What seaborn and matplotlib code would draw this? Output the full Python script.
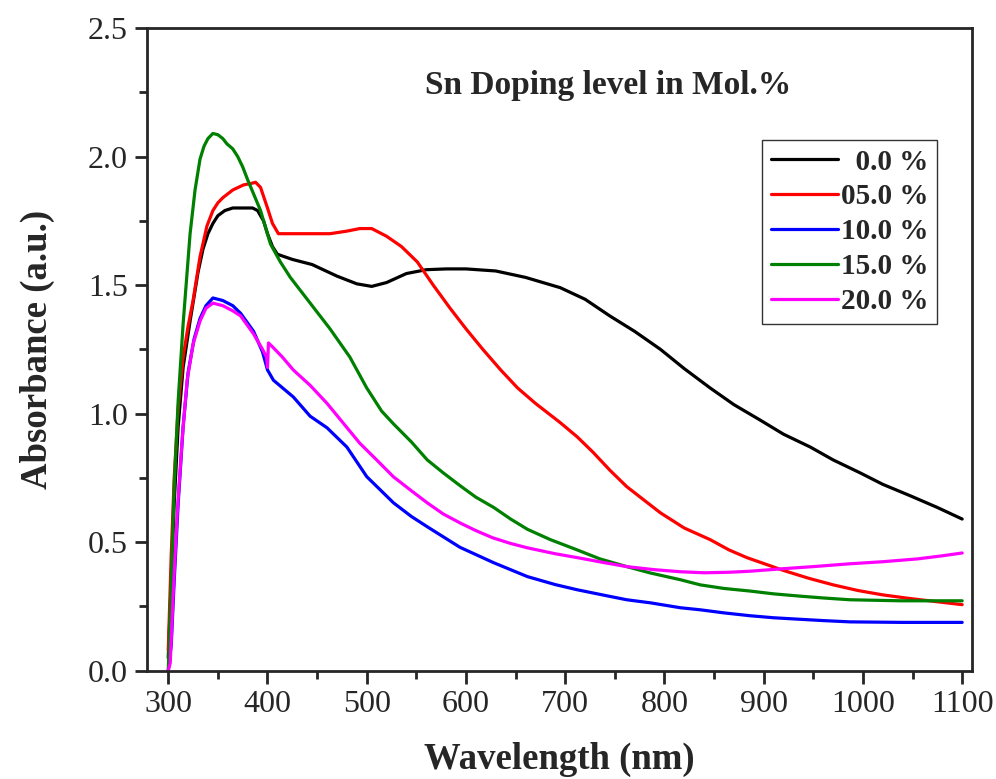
import numpy as np
import pandas as pd
import matplotlib
matplotlib.use("Agg")
import matplotlib.pyplot as plt
from matplotlib.ticker import MultipleLocator, FormatStrFormatter
import seaborn as sns

# --- Datos ---
wl_00 = [300, 303, 306, 310, 315, 322, 330, 335, 340, 345, 350, 357, 365, 375, 385, 390,
         396, 400, 405, 410, 425, 445, 470, 490, 505, 520, 540, 560, 580, 600, 630, 660,
         695, 720, 745, 770, 796, 820, 846, 870, 896, 920, 947, 970, 997, 1020, 1048, 1075,
         1100]
ab_00 = [0.05, 0.35, 0.65, 0.95, 1.18, 1.36, 1.55, 1.64, 1.70, 1.74, 1.77, 1.79, 1.80, 1.80,
         1.80, 1.79, 1.75, 1.70, 1.65, 1.62, 1.60, 1.58, 1.535, 1.505, 1.495, 1.51, 1.545,
         1.56, 1.563, 1.563, 1.555, 1.53, 1.49, 1.445, 1.38, 1.32, 1.25, 1.175, 1.10, 1.035,
         0.976, 0.92, 0.87, 0.82, 0.77, 0.725, 0.68, 0.635, 0.59]

wl_05 = [300, 303, 306, 310, 315, 320, 325, 332, 339, 345, 350, 355, 365, 376, 383, 388,
         393, 400, 405, 411, 433, 463, 480, 493, 505, 520, 535, 551, 567, 584, 600, 617,
         635, 652, 670, 695, 712, 728, 745, 762, 796, 820, 846, 865, 883, 920, 945, 970,
         995, 1020, 1045, 1071, 1100]
ab_05 = [0.08, 0.45, 0.75, 1.02, 1.22, 1.34, 1.44, 1.61, 1.73, 1.79, 1.82, 1.84, 1.87, 1.89,
         1.895, 1.90, 1.88, 1.80, 1.74, 1.70, 1.70, 1.70, 1.71, 1.72, 1.72, 1.69, 1.65, 1.59,
         1.50, 1.41, 1.33, 1.25, 1.17, 1.10, 1.04, 0.965, 0.91, 0.85, 0.78, 0.716, 0.614,
         0.555, 0.51, 0.47, 0.44, 0.39, 0.36, 0.334, 0.312, 0.295, 0.282, 0.27, 0.257]

wl_10 = [300, 303, 306, 310, 315, 320, 326, 332, 338, 345, 355, 365, 373, 386, 395, 400,
         406, 426, 443, 460, 480, 500, 527, 545, 561, 594, 628, 662, 690, 712, 740, 762,
         786, 816, 836, 860, 886, 910, 937, 960, 987, 1040, 1100]
ab_10 = [0.0, 0.1, 0.35, 0.65, 0.95, 1.16, 1.29, 1.37, 1.42, 1.45, 1.44, 1.42, 1.39, 1.32,
         1.24, 1.17, 1.13, 1.065, 0.99, 0.945, 0.87, 0.755, 0.653, 0.60, 0.56, 0.48, 0.42,
         0.366, 0.335, 0.315, 0.293, 0.276, 0.264, 0.245, 0.237, 0.225, 0.214, 0.206, 0.20,
         0.195, 0.19, 0.188, 0.188]

wl_15 = [300, 303, 306, 310, 315, 322, 327, 332, 336, 340, 345, 350, 355, 359, 365, 370,
         375, 380, 393, 403, 413, 423, 443, 463, 483, 500, 515, 527, 545, 561, 577, 594,
         610, 628, 645, 662, 685, 712, 735, 762, 786, 816, 836, 860, 886, 910, 937, 960,
         987, 1038, 1100]
ab_15 = [0.0, 0.35, 0.72, 1.05, 1.35, 1.70, 1.87, 1.99, 2.04, 2.07, 2.09, 2.085, 2.07, 2.05,
         2.03, 2.00, 1.96, 1.91, 1.79, 1.66, 1.59, 1.53, 1.43, 1.33, 1.22, 1.10, 1.01, 0.96,
         0.89, 0.82, 0.77, 0.72, 0.675, 0.635, 0.59, 0.55, 0.51, 0.47, 0.435, 0.405, 0.38,
         0.354, 0.334, 0.32, 0.31, 0.299, 0.29, 0.283, 0.276, 0.272, 0.272]

wl_20 = [300, 302, 305, 309, 314, 319, 325, 332, 338, 345, 355, 365, 373, 386, 395, 399,
         400, 401, 405, 415, 426, 443, 460, 477, 493, 510, 527, 545, 561, 577, 594, 610,
         627, 645, 662, 690, 712, 740, 762, 790, 816, 840, 865, 886, 920, 950, 987, 1020,
         1055, 1080, 1100]
ab_20 = [0.0, 0.03, 0.3, 0.61, 0.90, 1.13, 1.27, 1.36, 1.41, 1.43, 1.42, 1.40, 1.38, 1.31,
         1.25, 1.22, 1.18, 1.275, 1.26, 1.22, 1.17, 1.11, 1.04, 0.96, 0.885, 0.82, 0.754,
         0.70, 0.653, 0.61, 0.575, 0.545, 0.517, 0.495, 0.478, 0.455, 0.44, 0.42, 0.405,
         0.393, 0.385, 0.381, 0.383, 0.387, 0.397, 0.405, 0.416, 0.424, 0.435, 0.447, 0.458]

series = ["0.0", "05.0", "10.0", "15.0", "20.0"]
leyenda = ["  0.0 %", "05.0 %", "10.0 %", "15.0 %", "20.0 %"]
colores = ["#000000", "#ff0000", "#0000ff", "#008000", "#ff00ff"]

datos = [(wl_00, ab_00), (wl_05, ab_05), (wl_10, ab_10), (wl_15, ab_15), (wl_20, ab_20)]
df = pd.concat([pd.DataFrame({"wl": w, "abs": a, "sn": s}) for (w, a), s in zip(datos, series)],
               ignore_index=True)

# --- Estilo ---
sns.set_style("ticks")
plt.rcParams["font.family"] = ["Liberation Serif", "DejaVu Serif"]
plt.rcParams["axes.linewidth"] = 2.0

fig, ax = plt.subplots(figsize=(9.96, 7.79), dpi=100)
fig.subplots_adjust(left=0.148, right=0.976, top=0.964, bottom=0.139)

sns.lineplot(data=df, x="wl", y="abs", hue="sn", hue_order=series,
             palette=dict(zip(series, colores)), sort=False, estimator=None,
             linewidth=2.3, ax=ax, legend=False)

ax.set_xlim(279, 1110)
ax.set_ylim(0, 2.5)
ax.set_xticks(np.arange(300, 1101, 100))
ax.xaxis.set_minor_locator(MultipleLocator(50))
ax.yaxis.set_major_locator(MultipleLocator(0.5))
ax.yaxis.set_minor_locator(MultipleLocator(0.25))
ax.yaxis.set_major_formatter(FormatStrFormatter("%.1f"))
ax.tick_params(which="major", direction="out", length=9, width=2, labelsize=23, pad=5)
ax.tick_params(which="minor", direction="out", length=5.5, width=2)
for s in ax.spines.values():
    s.set_visible(True)
    s.set_linewidth(2.0)

ax.set_xlabel("Wavelength (nm)", fontsize=26.5, fontweight="bold", labelpad=16)
ax.set_ylabel("Absorbance (a.u.)", fontsize=26.5, fontweight="bold", labelpad=24)

ax.text(0.559, 0.911, "Sn Doping level in Mol.%", transform=ax.transAxes,
        ha="center", va="center", fontsize=24, fontweight="bold")

handles = [plt.Line2D([], [], color=c, linewidth=2.3) for c in colores]
leg = ax.legend(handles, leyenda, loc="upper right", bbox_to_anchor=(0.958, 0.826),
                prop={"size": 21, "weight": "bold"}, frameon=True, fancybox=False,
                handlelength=2.3, handletextpad=0.1, labelspacing=0.27,
                borderpad=0.3, borderaxespad=0)
leg.get_frame().set_edgecolor("black")
leg.get_frame().set_linewidth(1.0)

plt.savefig("out.png", dpi=100)
